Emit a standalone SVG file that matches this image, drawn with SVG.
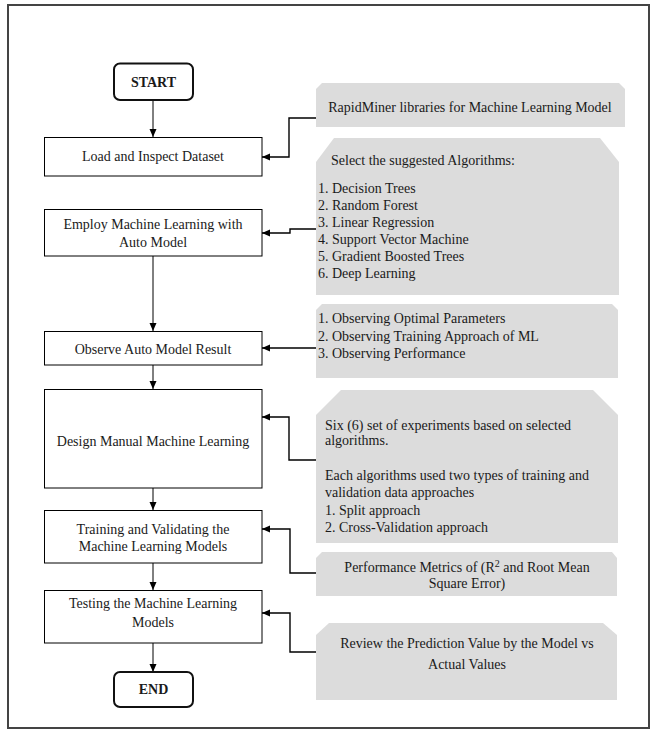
<svg xmlns="http://www.w3.org/2000/svg" width="650" height="733" viewBox="0 0 650 733">
<style>
  text { font-family: "Liberation Serif", "Times New Roman", serif; font-size: 14px; fill: #1a1a1a; }
  .c { text-anchor: middle; }
  .b { font-weight: bold; }
  .box { fill: #ffffff; stroke: #000; stroke-width: 1; }
  .term { fill: #ffffff; stroke: #111; stroke-width: 2; }
  .note { fill: #dcdcdc; stroke: none; }
  .flow { fill: none; stroke: #000; stroke-width: 1; }
  .link { fill: none; stroke: #000; stroke-width: 1.4; }
</style>
<defs>
  <marker id="ah" markerUnits="userSpaceOnUse" markerWidth="9" markerHeight="8" refX="8" refY="3.5" orient="auto">
    <path d="M0,0 L8,3.5 L0,7 z" fill="#000"/>
  </marker>
</defs>
<rect x="8" y="5" width="641" height="723" fill="#ffffff" stroke="#444" stroke-width="2"/>

<g id="connectors">
  <line class="flow" x1="153" y1="100" x2="153" y2="137" marker-end="url(#ah)"/>
  <line class="flow" x1="153" y1="256" x2="153" y2="331" marker-end="url(#ah)"/>
  <line class="flow" x1="153" y1="365" x2="153" y2="389" marker-end="url(#ah)"/>
  <line class="flow" x1="153" y1="488" x2="153" y2="510" marker-end="url(#ah)"/>
  <line class="flow" x1="153" y1="563" x2="153" y2="590" marker-end="url(#ah)"/>
  <line class="flow" x1="153" y1="643" x2="153" y2="672" marker-end="url(#ah)"/>
  <polyline class="link" points="316,118 289,118 289,157 262,157" marker-end="url(#ah)"/>
  <polyline class="link" points="316,229 290,229 290,233 262,233" marker-end="url(#ah)"/>
  <polyline class="link" points="316,348 262,348" marker-end="url(#ah)"/>
  <polyline class="link" points="316,460 289,460 289,417 262,417" marker-end="url(#ah)"/>
  <polyline class="link" points="316,573 290,573 290,529 262,529" marker-end="url(#ah)"/>
  <polyline class="link" points="316,652 290,652 290,613 262,613" marker-end="url(#ah)"/>
</g>

<g id="start">
  <rect class="term" x="114" y="63.5" width="79" height="36.5" rx="6"/>
  <text class="c b" x="153.5" y="87">START</text>
</g>
<g id="load">
  <rect class="box" x="44.5" y="137.5" width="217.5" height="38.5"/>
  <text class="c" x="153" y="161">Load and Inspect Dataset</text>
</g>
<g id="employ">
  <rect class="box" x="44.5" y="209.5" width="217.5" height="46.5"/>
  <text class="c" x="153" y="229">Employ Machine Learning with</text>
  <text class="c" x="153" y="247">Auto Model</text>
</g>
<g id="observe">
  <rect class="box" x="44.5" y="331.5" width="217.5" height="33.5"/>
  <text class="c" x="153" y="354">Observe Auto Model Result</text>
</g>
<g id="design">
  <rect class="box" x="44.5" y="389.5" width="217.5" height="98.5"/>
  <text class="c" x="153" y="446">Design Manual Machine Learning</text>
</g>
<g id="training">
  <rect class="box" x="44.5" y="510.5" width="217.5" height="52.5"/>
  <text class="c" x="153" y="534">Training and Validating the</text>
  <text class="c" x="153" y="551">Machine Learning Models</text>
</g>
<g id="testing">
  <rect class="box" x="44.5" y="590.5" width="217.5" height="52.5"/>
  <text class="c" x="153" y="608">Testing the Machine Learning</text>
  <text class="c" x="153" y="627">Models</text>
</g>
<g id="end">
  <rect class="term" x="114" y="672" width="79" height="35" rx="6"/>
  <text class="c b" x="153.5" y="694">END</text>
</g>

<g id="note-rapidminer">
  <path class="note" d="M322,83 L619,83 L625,89 L625,127 L316,127 L316,89 Z"/>
  <text class="c" x="470" y="112">RapidMiner libraries for Machine Learning Model</text>
</g>
<g id="note-algorithms">
  <path class="note" d="M334,138 L600,138 L619,162 L619,295 L316,295 L316,162 Z"/>
  <text x="331" y="165">Select the suggested Algorithms:</text>
  <text x="318" y="193">1. Decision Trees</text>
  <text x="318" y="210">2. Random Forest</text>
  <text x="318" y="227">3. Linear Regression</text>
  <text x="318" y="244">4. Support Vector Machine</text>
  <text x="318" y="261">5. Gradient Boosted Trees</text>
  <text x="318" y="278">6. Deep Learning</text>
</g>
<g id="note-observe">
  <path class="note" d="M322,304 L612,304 L618,310 L618,378 L316,378 L316,310 Z"/>
  <text x="318" y="323">1. Observing Optimal Parameters</text>
  <text x="318" y="341">2. Observing Training Approach of ML</text>
  <text x="318" y="358">3. Observing Performance</text>
</g>
<g id="note-design">
  <path class="note" d="M341,390 L593,390 L618,415 L618,543 L316,543 L316,415 Z"/>
  <text x="325" y="430">Six (6) set of experiments based on selected</text>
  <text x="325" y="445">algorithms.</text>
  <text x="325" y="480">Each algorithms used two types of training and</text>
  <text x="325" y="497">validation data approaches</text>
  <text x="325" y="515">1. Split approach</text>
  <text x="325" y="532">2. Cross-Validation approach</text>
</g>
<g id="note-performance">
  <path class="note" d="M322,552 L612,552 L617,558 L617,596 L316,596 L316,558 Z"/>
  <text class="c" x="467" y="572">Performance Metrics of (R<tspan font-size="10" dy="-5">2</tspan><tspan dy="5"> and Root Mean</tspan></text>
  <text class="c" x="467" y="588">Square Error)</text>
</g>
<g id="note-review">
  <path class="note" d="M329,623 L603,623 L617,635 L617,700 L316,700 L316,635 Z"/>
  <text class="c" x="467" y="648">Review the Prediction Value by the Model vs</text>
  <text class="c" x="467" y="669">Actual Values</text>
</g>
</svg>
